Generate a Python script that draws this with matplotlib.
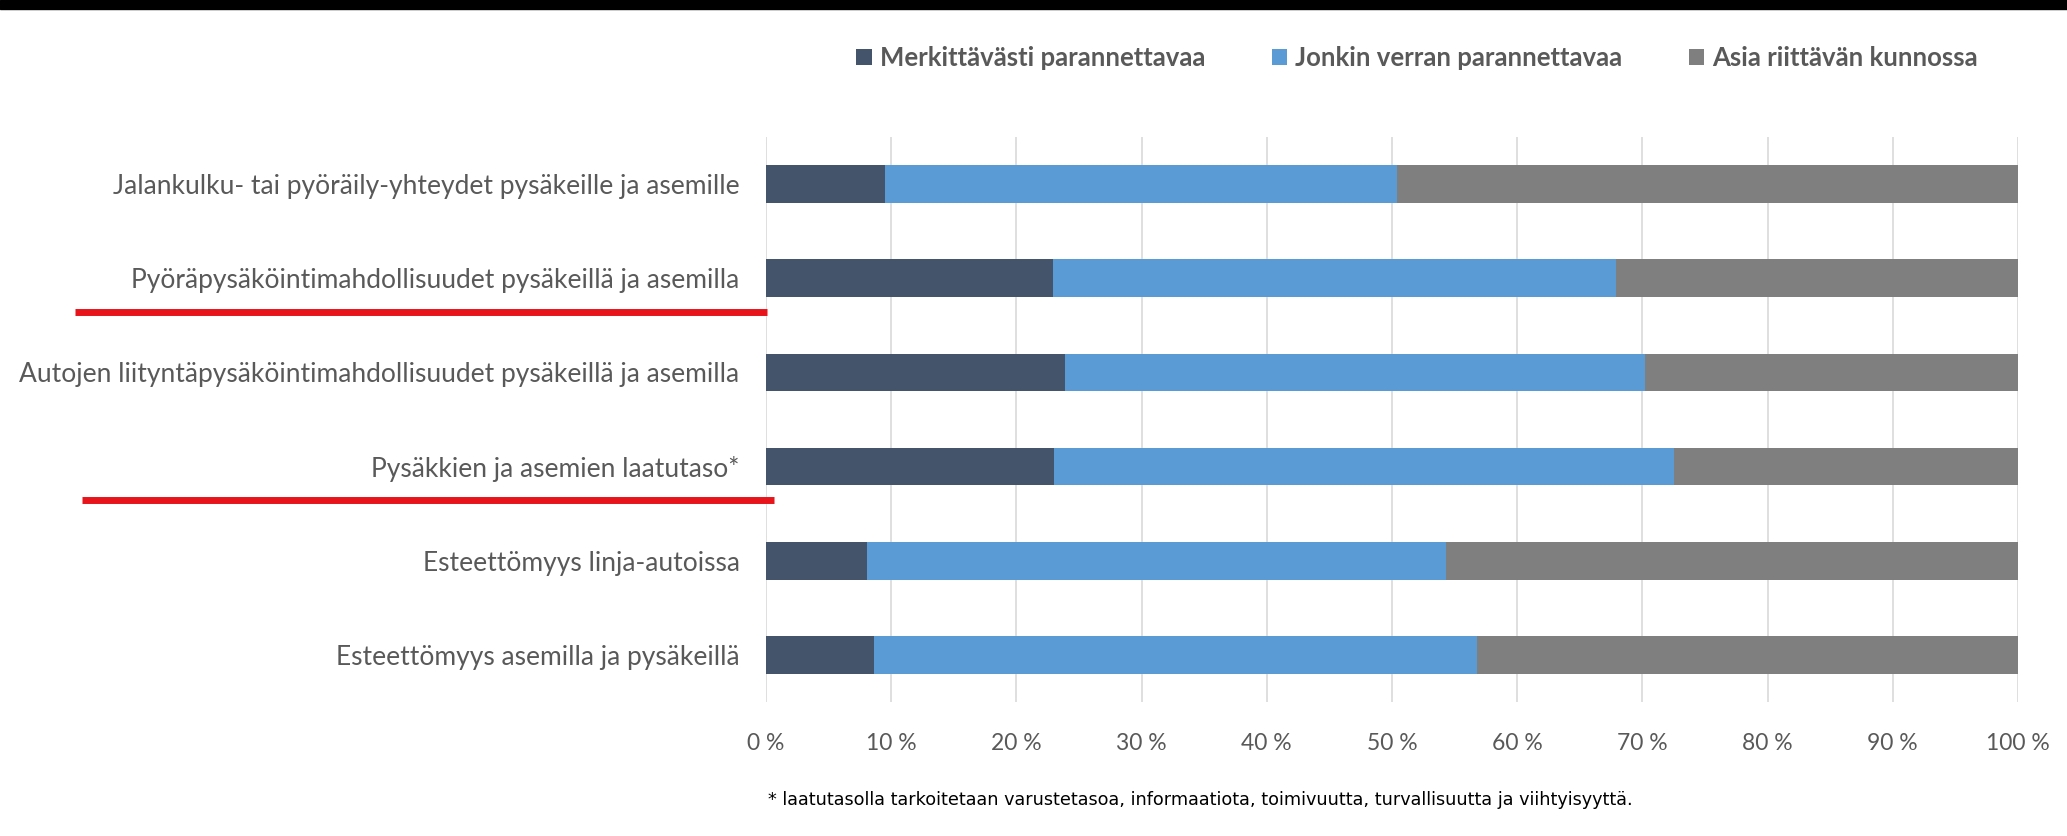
#!/usr/bin/env python
# coding: utf-8

# Stacked 100 % bar chart, survey on stops and stations

import matplotlib
matplotlib.use('Agg')
import matplotlib.pyplot as plt
import matplotlib.transforms as mtransforms
from matplotlib.patches import Rectangle
import numpy as np

plt.rcParams['font.family'] = ['Lato', 'DejaVu Sans']

categories = [
    'Jalankulku- tai pyöräily-yhteydet pysäkeille ja asemille',
    'Pyöräpysäköintimahdollisuudet pysäkeillä ja asemilla',
    'Autojen liityntäpysäköintimahdollisuudet pysäkeillä ja asemilla',
    'Pysäkkien ja asemien laatutaso*',
    'Esteettömyys linja-autoissa',
    'Esteettömyys asemilla ja pysäkeillä',
]
series_names = ['Merkittävästi parannettavaa', 'Jonkin verran parannettavaa',
                'Asia riittävän kunnossa']
merkittavasti = [9.5, 22.9, 23.9, 23.0, 8.1, 8.6]
jonkin_verran = [40.9, 45.0, 46.3, 49.5, 46.2, 48.2]
riittava = [100 - a - b for a, b in zip(merkittavasti, jonkin_verran)]
xtick_labels = ['0 %', '10 %', '20 %', '30 %', '40 %', '50 %', '60 %',
                '70 %', '80 %', '90 %', '100 %']
footnote = ('* laatutasolla tarkoitetaan varustetasoa, informaatiota, toimivuutta, '
            'turvallisuutta ja viihtyisyyttä.')
underlined = [1, 3]  # categories with red line under the label

colors = ['#44546A', '#5B9BD5', '#7F7F7F']
text_col = '#595959'

W, H = 2067, 836
fig = plt.figure(figsize=(W / 100, H / 100), dpi=100)
ax = fig.add_axes([766 / W, 1 - 702 / H, (2018 - 766) / W, (702 - 137) / H])

y = np.arange(len(categories))
left = np.zeros(len(categories))
for vals, name, c in zip([merkittavasti, jonkin_verran, riittava], series_names, colors):
    ax.barh(y, vals, left=left, height=0.4, color=c, label=name, zorder=3)
    left += np.asarray(vals)

ax.set_xlim(0, 100)
ax.set_ylim(len(categories) - 0.5, -0.5)
ax.set_xticks(np.arange(0, 101, 10))
ax.set_xticklabels(xtick_labels)
ax.set_yticks(y)
ax.set_yticklabels(categories)
ax.tick_params(axis='x', length=0, pad=22, labelsize=16.5, labelcolor=text_col)
ax.tick_params(axis='y', length=0, pad=19, labelsize=19, labelcolor=text_col)
ax.grid(axis='x', color='#D9D9D9', linewidth=1.2, zorder=0)
for s in ax.spines.values():
    s.set_visible(False)

# red underlines under some labels
trans = mtransforms.blended_transform_factory(fig.transFigure, ax.transData)
for i, (x0, x1) in zip(underlined, [(75, 767), (82, 774)]):
    ax.plot([x0 / W, x1 / W], [i + 0.36, i + 0.36], color='#E8141B',
            linewidth=5, transform=trans, clip_on=False, solid_capstyle='butt')

leg = fig.legend(loc='center', bbox_to_anchor=(1417 / W, 1 - 58 / H), ncol=3,
                 frameon=False, prop={'size': 18.5, 'weight': 'bold'},
                 handlelength=0.6, handleheight=0.6,
                 handletextpad=0.3, columnspacing=2.6, labelcolor=text_col)

fig.text(768 / W, 1 - 800 / H, footnote, fontsize=12.7, color='black',
         family=['Liberation Sans Narrow', 'DejaVu Sans'], va='center', ha='left')

# black strip at the top
fig.patches.append(Rectangle((0, 1 - 9 / H), 1, 9 / H, transform=fig.transFigure,
                             color='black', zorder=10))

plt.savefig('out.png', dpi=100, facecolor='white')
